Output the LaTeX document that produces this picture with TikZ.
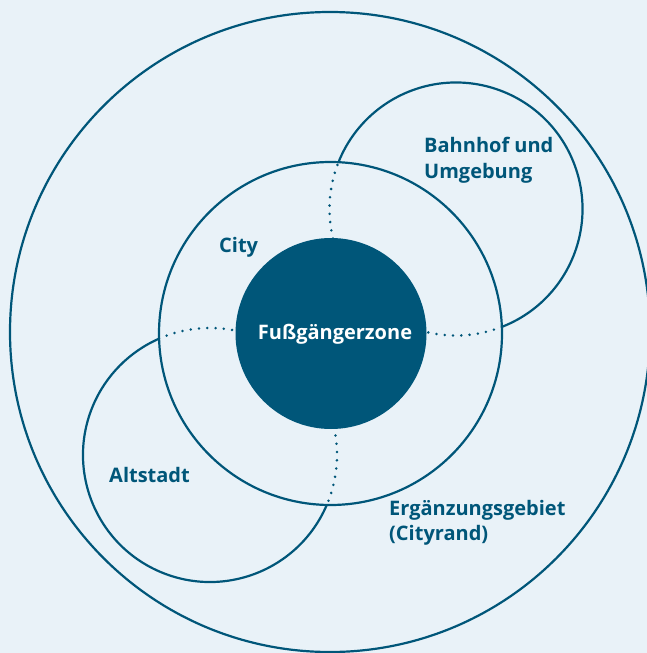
\documentclass[tikz,border=0pt]{standalone}
\usepackage{fontspec}
\setmainfont{Open Sans}
\definecolor{deepteal}{HTML}{005679}
\definecolor{paleblue}{HTML}{E9F2F8}
\begin{document}
\begin{tikzpicture}[x=1pt,y=-1pt,
  ring/.style={draw=deepteal, line width=2.2pt},
  dotring/.style={draw=deepteal, line width=2.8pt, line cap=round, dash pattern=on 0pt off 8.3pt},
  lbl/.style={text=deepteal, font=\fontsize{20}{25}\selectfont\bfseries, inner sep=0pt, anchor=base west},
]
\useasboundingbox (0,0) rectangle (647,653);
\clip (0,0) rectangle (647,653);
\fill[paleblue] (0,0) rectangle (647,653);

% outer region and city ring
\draw[ring] (330,332) circle[radius=320];
\draw[ring] (330.5,333.5) circle[radius=171.5];

% station district: solid outside the city ring, dotted inside
\draw[ring] (456,209) ++(68.8:126.5) arc[start angle=68.8, end angle=-158.3, radius=126.5];
\draw[dotring] (456,209) ++(68.8:126.5) arc[start angle=68.8, end angle=201.7, radius=126.5];

% old town: solid outside the city ring, dotted inside
\draw[ring] (210,455) ++(23.2:127) arc[start angle=23.2, end angle=246.3, radius=127];
\draw[dotring] (210,455) ++(-113.7:127) arc[start angle=-113.7, end angle=23.2, radius=127];

% pedestrian zone core
\fill[deepteal] (331,333.5) circle[radius=95.5];

\node[lbl] (bahnhof) at (424,152) {Bahnhof und};
\node[lbl] (umgebung) at (424,178) {Umgebung};
\node[lbl] (city) at (219,252) {City};
\node[lbl, text=white, anchor=base] (fuzone) at (335,339) {Fußgängerzone};
\node[lbl] (altstadt) at (109,482) {Altstadt};
\node[lbl] (ergaenzung) at (389,515) {Ergänzungsgebiet};
\node[lbl] (cityrand) at (389,540) {(Cityrand)};
\end{tikzpicture}
\end{document}
